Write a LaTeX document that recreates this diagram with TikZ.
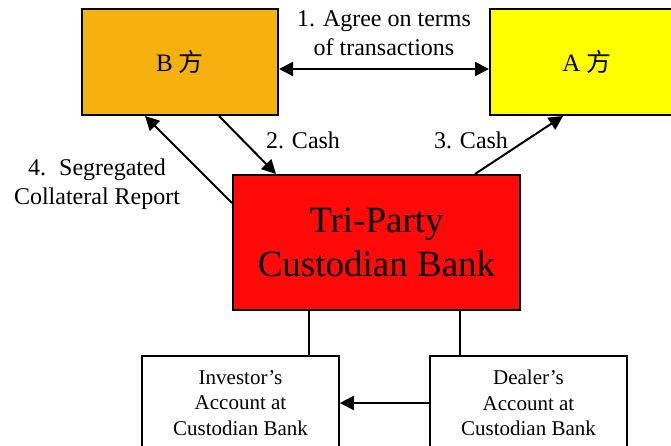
\documentclass[tikz,border=0pt]{standalone}
\usepackage{fontspec}
\setmainfont{Liberation Serif}
\newfontfamily\cjk{Noto Sans CJK SC}
\usetikzlibrary{arrows.meta}
\definecolor{borange}{HTML}{F4B10F}
\definecolor{ayellow}{HTML}{FFFF00}
\definecolor{tred}{HTML}{FF0909}
\tikzset{
  box/.style={draw=black, line width=2pt, rectangle, align=center, inner sep=0pt},
  wbox/.style={draw=black, line width=1.6pt, rectangle, align=center, inner sep=0pt, fill=white},
  conn/.style={line width=2pt},
  arr/.style={line width=2pt, -{Triangle[length=14pt,width=14pt]}},
  darr/.style={line width=2pt, {Triangle[length=14pt,width=14pt]}-{Triangle[length=14pt,width=14pt]}},
  lbl/.style={align=center, inner sep=0pt, font=\fontsize{24}{28.8}\selectfont},
}
\begin{document}
\begin{tikzpicture}[x=1pt,y=-1pt]
\useasboundingbox (0,0) rectangle (671,445);
\fill[white] (0,0) rectangle (671,445);
\node[box, fill=borange, minimum width=196pt, minimum height=106pt, font=\fontsize{25}{30}\selectfont] (B) at (180,62) {B {\cjk 方}};
\node[box, fill=ayellow, minimum width=200pt, minimum height=106pt, font=\fontsize{25}{30}\selectfont] (A) at (590,62) {\hspace*{-6pt}A {\cjk 方}\hspace*{0pt}};
\node[box, fill=tred, minimum width=287pt, minimum height=135pt, font=\fontsize{37}{44}\selectfont] (R) at (376.5,242.5) {Tri-Party\\Custodian Bank};
\node[wbox, minimum width=197pt, minimum height=94pt, font=\fontsize{21}{25.5}\selectfont] (I) at (240.5,403) {Investor’s\\Account at\\Custodian Bank};
\node[wbox, minimum width=197pt, minimum height=94pt, font=\fontsize{21}{25.5}\selectfont] (D) at (528.5,403) {Dealer’s\\Account at\\Custodian Bank};

\draw[darr] ([yshift=-7pt]B.east) -- ([yshift=-7pt]A.west);
\draw[arr] ([xshift=39pt]B.south) -- ([xshift=-100.5pt]R.north);
\draw[arr] ([xshift=98.5pt]R.north) -- ([xshift=-27pt]A.south);
\draw[arr] ([yshift=39.5pt]R.west) -- ([xshift=-35pt]B.south);
\draw[conn] ([xshift=68.5pt]I.north) -- ([xshift=68.5pt]I.north |- R.south);
\draw[conn] ([xshift=-68.5pt]D.north) -- ([xshift=-68.5pt]D.north |- R.south);
\draw[arr] (D.west) -- (I.east);

\node[lbl] (l1) at (384,33) {1. Agree on terms\\of transactions};
\node[lbl] (l2) at (303,140) {2. Cash};
\node[lbl] (l3) at (471,140) {3. Cash};
\node[lbl] (l4) at (97,184) {4.\hspace{13pt}Segregated\\Collateral Report};
\end{tikzpicture}
\end{document}
